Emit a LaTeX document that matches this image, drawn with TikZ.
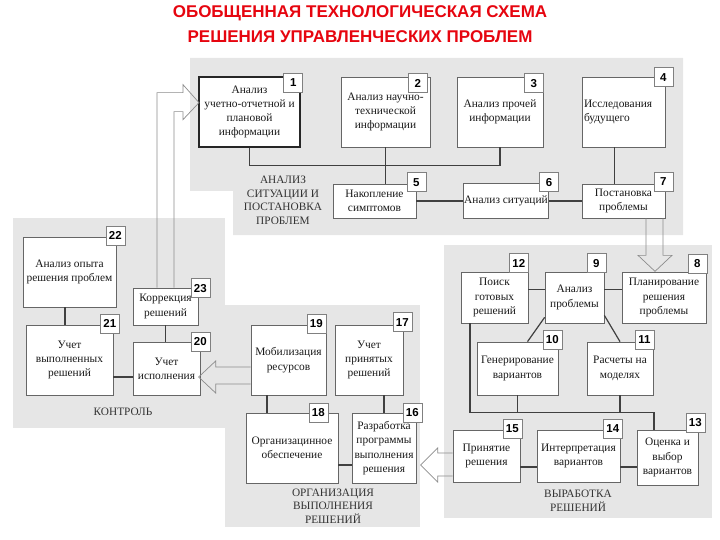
\documentclass[tikz,border=0pt]{standalone}
\usepackage{fontspec}
\setmainfont{Liberation Serif}
\setsansfont{Liberation Sans}
\definecolor{panel}{RGB}{230,230,230}
\definecolor{titlered}{RGB}{230,5,15}

\begin{document}
\begin{tikzpicture}[x=1pt,y=-1pt,
    box/.style={draw=black!60,line width=0.7pt,fill=white,align=center,inner sep=1pt,
      text=black!90,font=\fontsize{11.4}{14.3}\selectfont},
    numbox/.style={draw=black!50,line width=0.6pt,fill=white,minimum size=19pt,inner sep=0pt,
      font=\sffamily\bfseries\fontsize{11.5}{12}\selectfont},
    link/.style={draw=black!75,line width=1.2pt},
    hollow/.style={draw=black!45,line width=0.7pt,line join=miter},
    zone/.style={align=center,text=black!80,font=\fontsize{11.3}{13.5}\selectfont}]
  \useasboundingbox (0,0) rectangle (720,540);

  % title
  \node[align=center,text=titlered,font=\sffamily\bfseries\fontsize{17}{25}\selectfont] (title) at (360,24)
    {ОБОБЩЕННАЯ ТЕХНОЛОГИЧЕСКАЯ СХЕМА\\РЕШЕНИЯ УПРАВЛЕНЧЕСКИХ ПРОБЛЕМ};

  % gray zones
  \fill[panel] (190,58) -- (683,58) -- (683,235) -- (233,235) -- (233,191) -- (190,191) -- cycle;
  \fill[panel] (13,218) rectangle (225,428);
  \fill[panel] (225,305) rectangle (420,527);
  \fill[panel] (444,245) rectangle (712,518);

  \node[zone] (zanal) at (283,200.5) {АНАЛИЗ\\СИТУАЦИИ И\\ПОСТАНОВКА\\ПРОБЛЕМ};
  \node[zone] (zcontr) at (123,412) {КОНТРОЛЬ};
  \node[zone] (zorg) at (333,506) {ОРГАНИЗАЦИЯ\\ВЫПОЛНЕНИЯ\\РЕШЕНИЙ};
  \node[zone] (zvyr) at (578,501) {ВЫРАБОТКА\\РЕШЕНИЙ};

  % analysis of the situation
  \node[box,draw=black!85,line width=1.4pt,minimum width=101,minimum height=70] (b1) at (249.5,112)
    {Анализ\\учетно-отчетной и\\плановой\\информации};
  \node[box,minimum width=89,minimum height=70] (b2) at (385.5,112) {Анализ научно-\\технической\\информации};
  \node[box,minimum width=86,minimum height=70] (b3) at (500,112) {Анализ прочей\\информации};
  \node[box,text width=79pt,align=left,inner sep=2pt,minimum height=70] (b4) at (623.5,112) {Исследования\\будущего};
  \node[box,minimum width=83,minimum height=34] (b5) at (374.5,201) {Накопление\\симптомов};
  \node[box,minimum width=82,minimum height=35] (b6) at (506,201) {Анализ ситуаций};
  \node[box,minimum width=83,minimum height=34] (b7) at (623.5,201) {Постановка\\проблемы};

  % working out the decisions
  \node[box,minimum width=84,minimum height=51] (b8) at (664,297.5) {Планирование\\решения\\проблемы};
  \node[box,minimum width=59,minimum height=51] (b9) at (574.5,297.5) {Анализ\\проблемы};
  \node[box,minimum width=81,minimum height=53] (b10) at (517.5,368.5) {Генерирование\\вариантов};
  \node[box,minimum width=66,minimum height=53] (b11) at (620,368.5) {Расчеты на\\моделях};
  \node[box,minimum width=67,minimum height=51] (b12) at (494.5,297.5) {Поиск\\готовых\\решений};
  \node[box,minimum width=61,minimum height=55] (b13) at (667.5,457.5) {Оценка и\\выбор\\вариантов};
  \node[box,minimum width=83,minimum height=52] (b14) at (578.5,456) {Интерпретация\\вариантов};
  \node[box,minimum width=67,minimum height=52] (b15) at (486.5,456) {Принятие\\решения};

  % organization
  \node[box,minimum width=64,minimum height=70] (b16) at (384,448) {Разработка\\программы\\выполнения\\решения};
  \node[box,minimum width=68,minimum height=70] (b17) at (369,360) {Учет\\принятых\\решений};
  \node[box,minimum width=92,minimum height=70] (b18) at (292,448) {Организацинное\\обеспечение};
  \node[box,minimum width=75,minimum height=70] (b19) at (288.5,360) {Мобилизация\\ресурсов};

  % control
  \node[box,minimum width=67,minimum height=53] (b20) at (166.5,368.5) {Учет\\исполнения};
  \node[box,minimum width=87,minimum height=70] (b21) at (69.5,360) {Учет\\выполненных\\решений};
  \node[box,minimum width=93,minimum height=70] (b22) at (69.5,272) {Анализ опыта\\решения проблем};
  \node[box,minimum width=65,minimum height=37] (b23) at (165.5,306.5) {Коррекция\\решений};

  % numbers
  \node[numbox] (n1) at ([shift={(-7.5,6.5)}]b1.north east) {1};
  \node[numbox] (n2) at ([shift={(-12.5,6.5)}]b2.north east) {2};
  \node[numbox] (n3) at ([shift={(-9.5,6.5)}]b3.north east) {3};
  \node[numbox] (n4) at ([shift={(-2,0.5)}]b4.north east) {4};
  \node[numbox] (n5) at ([shift={(0,-1.5)}]b5.north east) {5};
  \node[numbox] (n6) at ([shift={(0,-1)}]b6.north east) {6};
  \node[numbox] (n7) at ([shift={(-2,-2)}]b7.north east) {7};
  \node[numbox] (n8) at ([shift={(-9,-8)}]b8.north east) {8};
  \node[numbox] (n9) at ([shift={(-8,-8.5)}]b9.north east) {9};
  \node[numbox] (n10) at ([shift={(-6,-2)}]b10.north east) {10};
  \node[numbox] (n11) at ([shift={(-9,-2)}]b11.north east) {11};
  \node[numbox] (n12) at ([shift={(-9.5,-8.5)}]b12.north east) {12};
  \node[numbox] (n13) at ([shift={(-3,-7)}]b13.north east) {13};
  \node[numbox] (n14) at ([shift={(-7.5,-1)}]b14.north east) {14};
  \node[numbox] (n15) at ([shift={(-8,-1)}]b15.north east) {15};
  \node[numbox] (n16) at ([shift={(-4,0)}]b16.north east) {16};
  \node[numbox] (n17) at ([shift={(-1,-2.5)}]b17.north east) {17};
  \node[numbox] (n18) at ([shift={(-20,0)}]b18.north east) {18};
  \node[numbox] (n19) at ([shift={(-10,-1)}]b19.north east) {19};
  \node[numbox] (n20) at ([shift={(0,0)}]b20.north east) {20};
  \node[numbox] (n21) at ([shift={(-3.5,-1)}]b21.north east) {21};
  \node[numbox] (n22) at ([shift={(-1,-1)}]b22.north east) {22};
  \node[numbox] (n23) at ([shift={(2,0.5)}]b23.north east) {23};

  % links
  \draw[link] (b1.south) -- ++(0,18) -| (b3.south);
  \draw[link] (b2.south) -- (b2.south |- b5.north);
  \draw[link] ([xshift=-9pt]b4.south) -- ([xshift=-9pt]b4.south |- b7.north);
  \draw[link] (b5.east) -- (b6.west);
  \draw[link] (b6.east) -- (b7.west);
  \draw[link] ([yshift=8pt]b12.east) -- ([yshift=8pt]b9.west);
  \draw[link] ([yshift=8pt]b9.east) -- ([yshift=8pt]b8.west);
  \draw[link] ([yshift=6pt]b9.south west) -- ([xshift=10pt]b10.north);
  \draw[link] ([yshift=8pt]b9.south east) -- (b11.north);
  \draw[link] ([xshift=-24.5pt]b12.south) |- ([shift={(-13.5,-17)}]b13.north) -- ([xshift=-13.5pt]b13.north);
  \draw[link] (b10.south) -- ++(0,18);
  \draw[link] (b11.south) -- ++(0,18);
  \draw[link] ([yshift=-11pt]b15.east) -- ([yshift=-11pt]b14.west);
  \draw[link] ([yshift=-11pt]b14.east) -- ([yshift=-11pt]b14.east -| b13.west);
  \draw[link] ([xshift=-21.5pt]b19.south) -- ([xshift=-21.5pt]b19.south |- b18.north);
  \draw[link] (b16.north |- b17.south) -- (b16.north);
  \draw[link] ([yshift=-17pt]b18.east) -- ([yshift=-17pt]b18.east -| b16.west);
  \draw[link] ([xshift=-4.5pt]b22.south) -- ([xshift=-4.5pt]b22.south |- b21.north);
  \draw[link] (b23.south) -- (b23.south |- b20.north);
  \draw[link] ([yshift=-17pt]b21.east) -- ([yshift=-17pt]b21.east -| b20.west);

  % big hollow arrows
  \draw[hollow] ([xshift=22.5pt]b7.south) -- ++(0,37) -- ++(-8,0) -- ++(17,16) -- ++(17,-16) -- ++(-9,0) -- ++(0,-37);
  \draw[hollow] ([xshift=-8.5pt]b23.north) -- ++(0,-195) -- ++(26,0) -- ++(0,-8) -- ++(16,18) -- ++(-16,17) -- ++(0,-8) -- ++(-9,0) -- ++(0,176);
  \draw[hollow] ([yshift=-7pt]b19.west) -- ++(-35,0) -- ++(0,-6) -- ++(-17,16) -- ++(17,16) -- ++(0,-9) -- ++(35,0);
  \draw[hollow] ([yshift=3pt]b15.west) -- ++(-15,0) -- ++(0,-5) -- ++(-17,17) -- ++(17,17) -- ++(0,-6) -- ++(15,0);
\end{tikzpicture}
\end{document}
